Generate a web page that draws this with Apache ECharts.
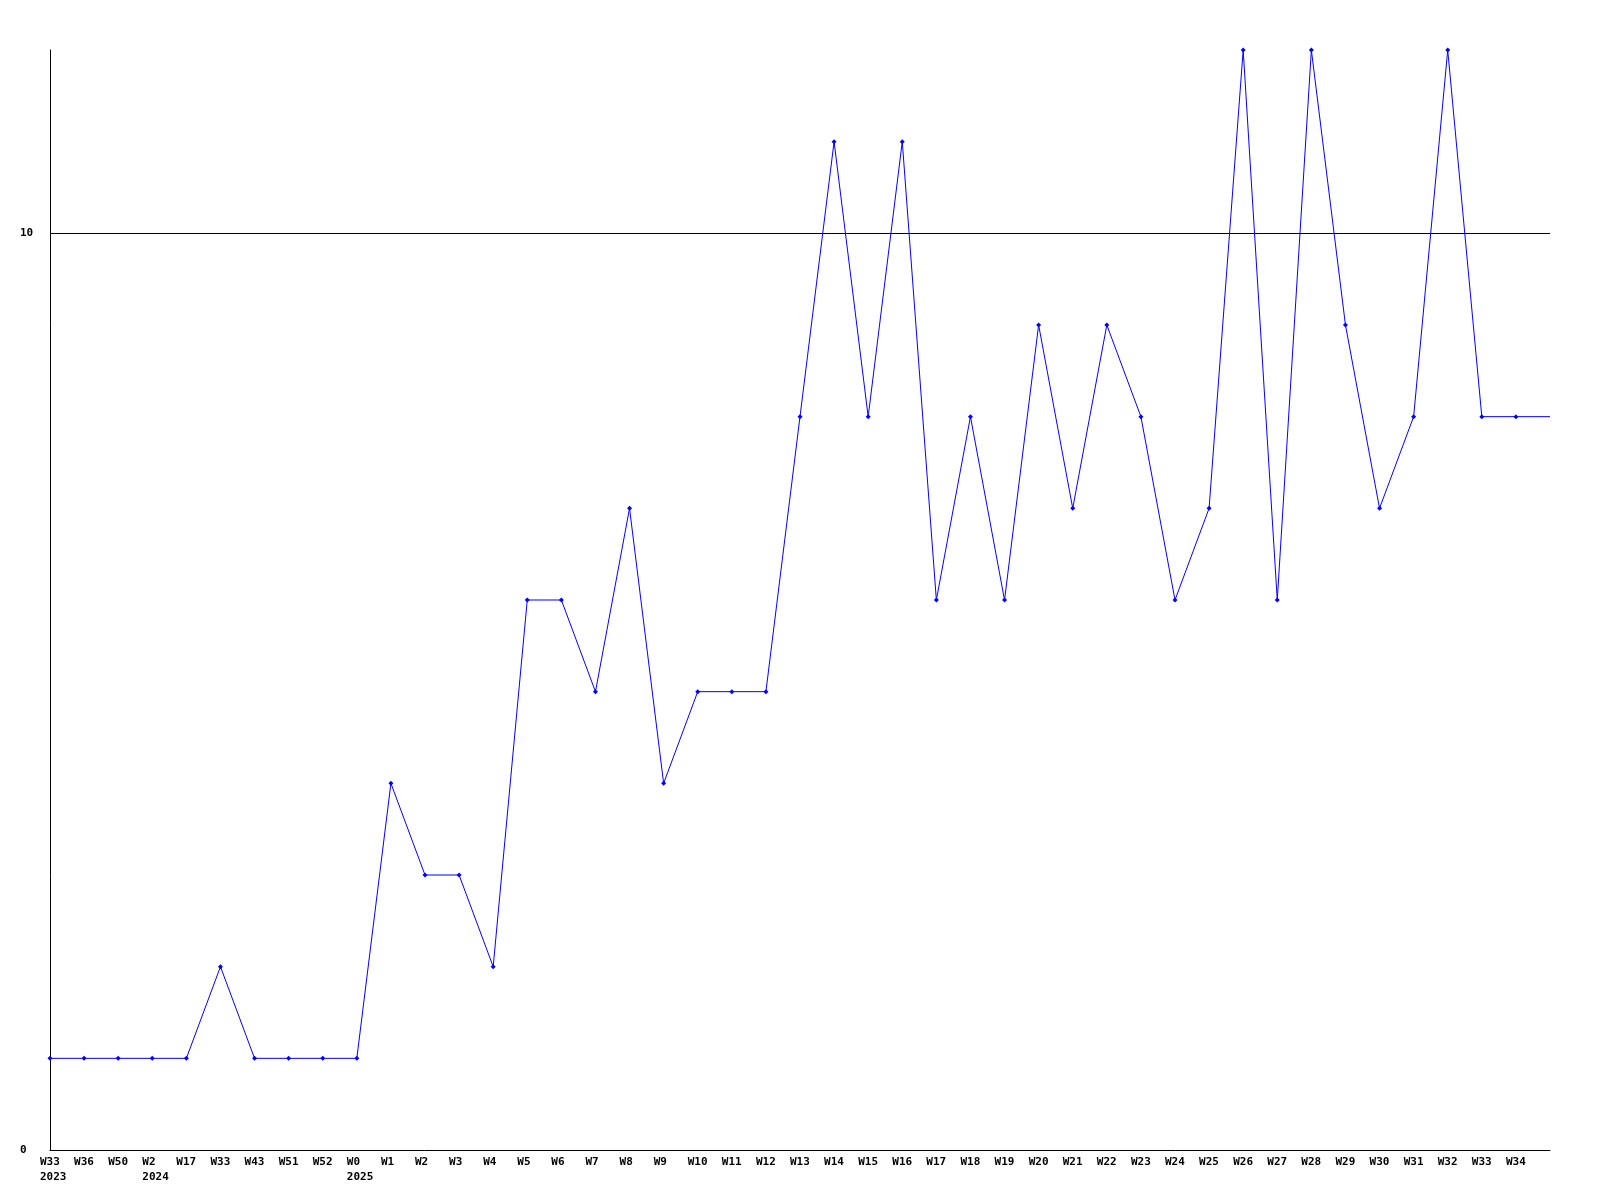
<!DOCTYPE html>
<html>
<head>
<meta charset="utf-8">
<script src="https://cdn.jsdelivr.net/npm/echarts@6/dist/echarts.min.js"></script>
<style>html,body{margin:0;padding:0;background:#fff}#c{width:1600px;height:1200px}</style>
</head>
<body>
<div id="c"></div>
<script>
const weeks = ['W33','W36','W50','W2','W17','W33','W43','W51','W52','W0','W1','W2','W3','W4','W5','W6','W7','W8','W9','W10','W11','W12','W13','W14','W15','W16','W17','W18','W19','W20','W21','W22','W23','W24','W25','W26','W27','W28','W29','W30','W31','W32','W33','W34',''];
const years = {0:'2023', 3:'2024', 9:'2025'};
const values = [1,1,1,1,1,2,1,1,1,1,4,3,3,2,6,6,5,7,4,5,5,5,8,11,8,11,6,8,6,9,7,9,8,6,7,12,6,12,9,7,8,12,8,8,8];
const yTicks = [0, 10];

const cats = weeks.map((w, i) => years[i] ? w + '\n' + years[i] : w);
const chart = echarts.init(document.getElementById('c'), null, {renderer: 'canvas'});
chart.setOption({
  animation: false,
  backgroundColor: '#ffffff',
  grid: {left: 50, right: 50, top: 50, bottom: 50, containLabel: false},
  xAxis: {
    type: 'category',
    data: cats,
    boundaryGap: false,
    axisLine: {lineStyle: {color: '#000', width: 1}},
    axisTick: {show: false},
    splitLine: {show: false},
    axisLabel: {
      interval: 0,
      align: 'left',
      padding: [0, 0, 0, -10],
      margin: 5,
      fontFamily: 'DejaVu Sans Mono',
      fontWeight: 'bold',
      fontSize: 11,
      lineHeight: 15,
      color: '#000'
    }
  },
  yAxis: {
    type: 'value',
    min: 0,
    max: 12,
    interval: 10,
    axisLine: {show: true, lineStyle: {color: '#000', width: 1}},
    axisTick: {show: false},
    splitLine: {show: true, showMinLine: false, showMaxLine: false, lineStyle: {color: '#000', width: 1}},
    axisLabel: {
      showMaxLabel: false,
      align: 'left',
      margin: 30,
      fontFamily: 'DejaVu Sans Mono',
      fontWeight: 'bold',
      fontSize: 11,
      color: '#000',
      formatter: v => yTicks.includes(v) ? String(v) : ''
    }
  },
  series: [{
    type: 'line',
    data: values.map((v, i) => i === values.length - 1 ? {value: v, symbol: 'none'} : v),
    symbol: 'diamond',
    symbolSize: 5,
    showAllSymbol: true,
    lineStyle: {color: '#0000ff', width: 1},
    itemStyle: {color: '#0000ff'},
    z: 3
  }]
});
</script>
</body>
</html>
